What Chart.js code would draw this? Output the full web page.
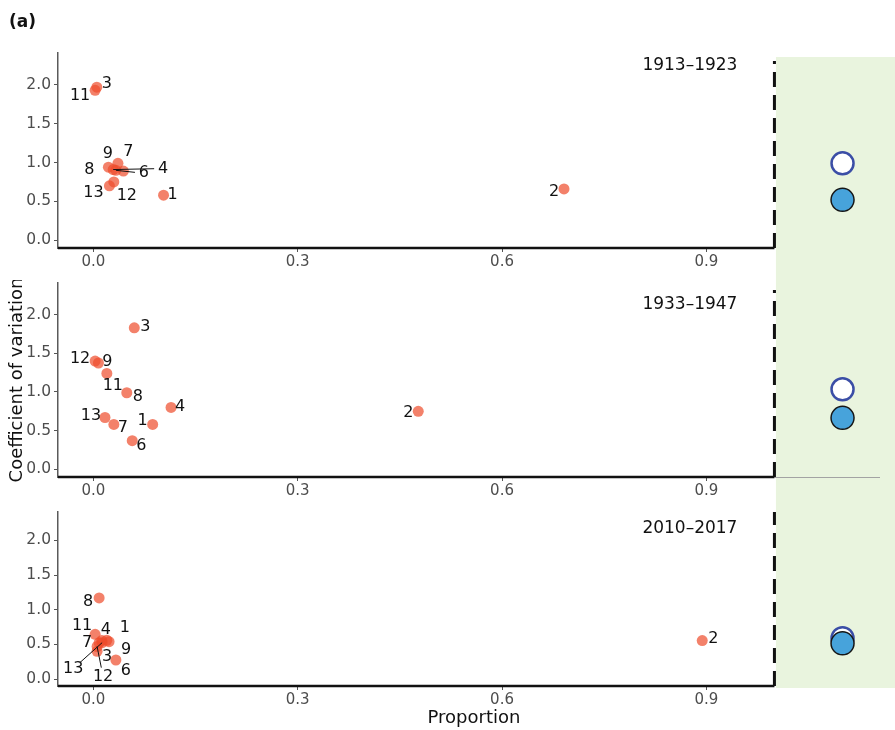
<!DOCTYPE html>
<html>
<head>
<meta charset="utf-8">
<title>CV vs proportion</title>
<script src="https://cdn.jsdelivr.net/npm/chart.js@4.4.1/dist/chart.umd.min.js"></script>
<style>
  body { margin: 0; background: #fff; }
  #fig { position: relative; width: 895px; height: 730px; overflow: hidden; background: #fff; }
  #fig canvas { position: absolute; left: 0; }
  #tag { position: absolute; left: 9px; top: 13px; font: bold 17px "DejaVu Sans", sans-serif; line-height: 17px; color: #111; z-index: 2; }
</style>
</head>
<body>
<div id="fig">
  <canvas id="c0" width="895" height="280" style="top:0px"></canvas>
  <canvas id="c1" width="895" height="230" style="top:280px"></canvas>
  <canvas id="c2" width="895" height="220" style="top:510px"></canvas>
  <div id="tag">(a)</div>
</div>
<script>
// Sites present in all three periods (5 and 10 have no record)
const siteIds = [1, 2, 3, 4, 6, 7, 8, 9, 11, 12, 13];
const periods = ['1913–1923', '1933–1947', '2010–2017'];

// Proportion of the total and coefficient of variation, one entry per site
const prop1913 = [0.103, 0.691, 0.005, 0.029, 0.033, 0.044, 0.022, 0.036, 0.0025, 0.030, 0.0235];
const cv1913   = [0.58, 0.66, 1.97, 0.91, 0.90, 0.89, 0.94, 0.99, 1.93, 0.75, 0.70];

const prop1933 = [0.087, 0.477, 0.060, 0.114, 0.057, 0.030, 0.049, 0.0074, 0.0197, 0.0025, 0.017];
const cv1933   = [0.58, 0.75, 1.83, 0.80, 0.37, 0.58, 0.99, 1.375, 1.24, 1.40, 0.67];

const prop2010 = [0.0197, 0.894, 0.0054, 0.0123, 0.033, 0.0084, 0.0084, 0.023, 0.0025, 0.0054, 0.0128];
const cv2010   = [0.56, 0.555, 0.40, 0.555, 0.275, 0.525, 1.17, 0.54, 0.645, 0.47, 0.525];

// Aggregate CV per period: open = mean over sites, filled = pooled series
const cvSiteMean = [0.99, 1.035, 0.59];
const cvPooled   = [0.52, 0.665, 0.515];
const summaryX = 1.1;

const xTicks = [0, 0.3, 0.6, 0.9];
const yTicks = [0, 0.5, 1, 1.5, 2];

// Label placement (pixel nudges from the point) and which labels get a leader line
const nudge1913 = [[9, 0], [-10, 3], [10, -3], [50, -1], [28, 3], [5, -19], [-19, 3], [-10, -9], [-15, 6], [13, 14], [-16, 7]];
const nudge1933 = [[-10, -4], [-10, 2], [11, -1], [9, -1], [9, 5], [9, 3], [11, 4], [9, -1], [6, 12], [-15, -2], [-14, -2]];
const nudge2010 = [[18, -12], [11, -2], [10, 6], [4, -11], [10, 11], [-12, 0], [-11, 4], [17, 8], [-13, -9], [6, 30], [-29, 26]];
const leaders1913 = [4, 6];
const leaders1933 = [];
const leaders2010 = [12, 13];

const FONT = '"DejaVu Sans", "Liberation Sans", sans-serif';
Chart.defaults.font.family = FONT;

// Green strip, dashed divider at 1.0, trimmed x axis, panel title and site labels
const panelDecor = {
  id: 'panelDecor',
  beforeDraw(chart, args, o) {
    const { ctx, chartArea } = chart;
    const x1 = chart.scales.x.getPixelForValue(1);
    const top = o.greenTop != null ? chartArea.top + o.greenTop : 0;
    const bottom = o.greenBottom != null ? chartArea.bottom + o.greenBottom : chart.height;
    ctx.save();
    ctx.fillStyle = '#E9F4DE';
    ctx.fillRect(x1 + 1.5, top, chart.width - x1, bottom - top);
    ctx.restore();
  },
  beforeDatasetsDraw(chart, args, o) {
    const { ctx, chartArea } = chart;
    const x1 = chart.scales.x.getPixelForValue(1);
    ctx.save();
    if (o.baseRule) {
      ctx.strokeStyle = '#A3A3A3';
      ctx.lineWidth = 1;
      ctx.beginPath();
      ctx.moveTo(x1, chartArea.bottom + 0.5);
      ctx.lineTo(chartArea.right - 10, chartArea.bottom + 0.5);
      ctx.stroke();
    }
    ctx.strokeStyle = '#111';
    ctx.lineWidth = 2.5;
    ctx.beginPath();
    ctx.moveTo(chartArea.left, chartArea.bottom);
    ctx.lineTo(x1, chartArea.bottom);
    ctx.stroke();

    ctx.lineWidth = 3;
    ctx.setLineDash([15, 8]);
    ctx.beginPath();
    ctx.moveTo(x1, chartArea.bottom);
    ctx.lineTo(x1, chartArea.top + o.dashTop);
    ctx.stroke();
    ctx.restore();
  },
  afterDatasetsDraw(chart, args, o) {
    const { ctx, chartArea } = chart;
    const x1 = chart.scales.x.getPixelForValue(1);
    ctx.save();
    ctx.fillStyle = '#111';
    ctx.font = '17px ' + FONT;
    ctx.textAlign = 'right';
    ctx.textBaseline = 'middle';
    ctx.fillText(o.title, x1 - 37, chartArea.top + o.titleDy);

    const meta = chart.getDatasetMeta(0);
    ctx.font = '16px ' + FONT;
    ctx.textAlign = 'center';
    ctx.strokeStyle = '#111';
    ctx.lineWidth = 1;
    meta.data.forEach((pt, i) => {
      const [dx, dy] = o.nudges[i];
      if (o.leaders.includes(siteIds[i])) {
        const len = Math.hypot(dx, dy);
        const k = (len - 9) / len;
        ctx.beginPath();
        ctx.moveTo(pt.x, pt.y);
        ctx.lineTo(pt.x + dx * k, pt.y + dy * k);
        ctx.stroke();
      }
      ctx.fillText(String(siteIds[i]), pt.x + dx, pt.y + dy);
    });
    ctx.restore();
  }
};

function makePanel(canvasId, idx, prop, cv, nudges, leaders, lay) {
  const sites = prop.map((p, i) => ({ x: p, y: cv[i] }));
  return new Chart(document.getElementById(canvasId), {
    type: 'scatter',
    data: {
      // lower order is drawn on top: sites, then pooled, then site mean
      datasets: [
        {
          data: sites,
          order: 0,
          pointRadius: 5.5,
          pointHoverRadius: 5.5,
          pointBorderWidth: 0,
          backgroundColor: 'rgba(238, 75, 43, 0.7)'
        },
        {
          data: [{ x: summaryX, y: cvSiteMean[idx] }],
          order: 2,
          pointRadius: 11,
          pointHoverRadius: 11,
          pointBorderWidth: 2.5,
          borderColor: '#3B4EA6',
          backgroundColor: '#fff'
        },
        {
          data: [{ x: summaryX, y: cvPooled[idx] }],
          order: 1,
          pointRadius: 11.5,
          pointHoverRadius: 11.5,
          pointBorderWidth: 1.5,
          borderColor: '#161616',
          backgroundColor: '#47A3DB'
        }
      ]
    },
    options: {
      responsive: false,
      animation: false,
      events: [],
      clip: false,
      layout: { autoPadding: false, padding: { top: lay.padTop, right: 5, bottom: 0, left: 0 } },
      scales: {
        x: {
          type: 'linear',
          min: -0.052,
          max: 1.1697,
          afterBuildTicks: s => { s.ticks = xTicks.map(v => ({ value: v })); },
          afterFit: s => { s.height = lay.axisHeight; s.paddingLeft = 0; s.paddingRight = 0; },
          ticks: {
            autoSkip: false,
            maxRotation: 0,
            padding: 1,
            color: '#4D4D4D',
            font: { size: 15 },
            callback: v => v.toFixed(1)
          },
          grid: { drawOnChartArea: false, tickLength: 4, color: '#555', lineWidth: 1 },
          border: { display: false },
          title: {
            display: lay.xTitle,
            text: 'Proportion',
            color: '#111',
            font: { size: 18 },
            padding: { top: 0, bottom: 1 }
          }
        },
        y: {
          type: 'linear',
          min: -0.1,
          max: 2.41,
          afterBuildTicks: s => { s.ticks = yTicks.map(v => ({ value: v })); },
          afterFit: s => { s.width = 58; s.paddingTop = 0; s.paddingBottom = 0; },
          ticks: {
            padding: 3,
            color: '#4D4D4D',
            font: { size: 15.5 },
            callback: v => v.toFixed(1)
          },
          grid: { drawOnChartArea: false, tickLength: 4, color: '#555', lineWidth: 1 },
          border: { color: '#5A5A5A', width: 1.5 },
          title: {
            display: lay.yTitle,
            text: 'Coefficient of variation',
            color: '#111',
            font: { size: 18 },
            padding: { top: 7, bottom: 0 }
          }
        }
      },
      plugins: {
        legend: { display: false },
        tooltip: { enabled: false },
        panelDecor: {
          title: periods[idx],
          nudges: nudges,
          leaders: leaders,
          titleDy: lay.titleDy,
          dashTop: lay.dashTop,
          greenTop: lay.greenTop,
          greenBottom: lay.greenBottom,
          baseRule: lay.baseRule
        }
      }
    },
    plugins: [panelDecor]
  });
}

makePanel('c0', 0, prop1913, cv1913, nudge1913, leaders1913,
  { padTop: 53, axisHeight: 32, titleDy: 13, dashTop: 8, greenTop: 4, greenBottom: null, xTitle: false, yTitle: false, baseRule: false });
makePanel('c1', 1, prop1933, cv1933, nudge1933, leaders1933,
  { padTop: 3, axisHeight: 33, titleDy: 22, dashTop: 7, greenTop: null, greenBottom: null, xTitle: false, yTitle: true, baseRule: true });
makePanel('c2', 2, prop2010, cv2010, nudge2010, leaders2010,
  { padTop: 2, axisHeight: 44, titleDy: 17, dashTop: 0, greenTop: null, greenBottom: 2, xTitle: true, yTitle: false, baseRule: false });
</script>
</body>
</html>
